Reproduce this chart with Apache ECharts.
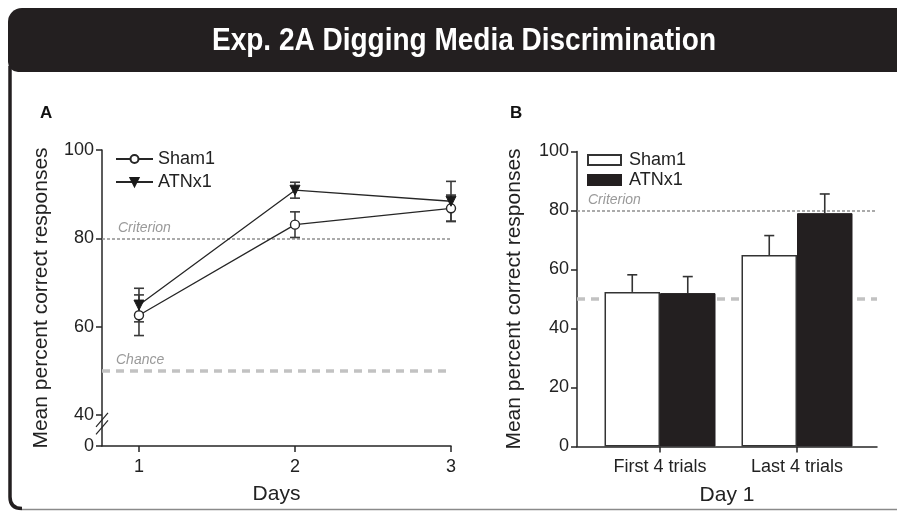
<!DOCTYPE html>
<html><head><meta charset="utf-8">
<script src="https://cdn.jsdelivr.net/npm/echarts@6/dist/echarts.min.js"></script>
<style>html,body{margin:0;padding:0;background:#fff}#c{width:897px;height:512px}</style>
</head><body><div id="c"></div>
<script>
// ---- data ----
const titleText = 'Exp. 2A Digging Media Discrimination';
const days = [1, 2, 3];
const shamMeanA = [62.6, 83.1, 86.8];
const shamSemA  = [4.6, 2.9, 3.0];
const atnMeanA  = [64.9, 90.9, 88.4];
const atnSemA   = [3.8, 1.8, 4.5];
const yTickLabelsA = ['0', '40', '60', '80', '100'];
const yTickValuesA = [33, 40, 60, 80, 100]; // 33 = position of the broken-axis "0"
const trialCats = ['First 4 trials', 'Last 4 trials'];
const shamMeanB = [52.4, 64.9];
const shamSemB  = [5.8, 6.6];
const atnMeanB  = [52.0, 79.1];
const atnSemB   = [5.6, 6.5];
const criterionValue = 80;
const chanceValue = 50;

// ---- style ----
const FONT = '"Liberation Sans", Arial, sans-serif';
const INK = '#262626';
const BAR_W = 55.5;
const CAP = 5;

const chart = echarts.init(document.getElementById('c'), null, {renderer: 'canvas'});

function errRenderA(params, api) {
  const x = api.value(0), lo = api.value(1), hi = api.value(2);
  const a = api.coord([x, hi]), b = api.coord([x, lo]);
  const st = {stroke: '#3a3a3a', lineWidth: 1.6};
  return {type: 'group', children: [
    {type: 'line', shape: {x1: a[0], y1: a[1], x2: b[0], y2: b[1]}, style: st},
    {type: 'line', shape: {x1: a[0] - CAP, y1: a[1], x2: a[0] + CAP, y2: a[1]}, style: st},
    {type: 'line', shape: {x1: b[0] - CAP, y1: b[1], x2: b[0] + CAP, y2: b[1]}, style: st}
  ]};
}
function errRenderB(side) {
  return function (params, api) {
    const x = api.value(0), m = api.value(1), hi = api.value(2);
    const a = api.coord([x, hi]), b = api.coord([x, m]);
    const px = a[0] + side * BAR_W / 2;
    const st = {stroke: '#333', lineWidth: 1.6};
    return {type: 'group', children: [
      {type: 'line', shape: {x1: px, y1: a[1], x2: px, y2: b[1]}, style: st},
      {type: 'line', shape: {x1: px - CAP, y1: a[1], x2: px + CAP, y2: a[1]}, style: st}
    ]};
  };
}

const refLabel = {color: '#9a9a9a', fontStyle: 'italic', fontSize: 14, fontFamily: FONT, position: 'insideStartTop'};
function refLines(withChanceLabel, critDist) {
  return {
    symbol: 'none', silent: true, animation: false,
    data: [
      {yAxis: criterionValue, lineStyle: {type: [3, 2], color: '#8e8e8e', width: 1.6},
       label: Object.assign({}, refLabel, {formatter: 'Criterion', distance: critDist})},
      {yAxis: chanceValue, lineStyle: {type: [8, 6], color: '#c2c2c2', width: 3.5},
       label: Object.assign({}, refLabel, {show: withChanceLabel, formatter: 'Chance', distance: [14, 4]})}
    ]
  };
}

const axisLineStyle = {show: true, onZero: false, lineStyle: {color: INK, width: 1.5}};
const tickStyle = {show: true, length: 6, lineStyle: {color: INK, width: 1.5}};
const labelStyle = {color: '#222', fontSize: 18, fontFamily: FONT};
const nameStyle = {color: '#222', fontSize: 21, fontFamily: FONT};

const option = {
  animation: false,
  backgroundColor: '#fff',
  textStyle: {fontFamily: FONT},
  grid: [
    {left: 102, right: 897 - 451, top: 150, bottom: 512 - 446},
    {left: 577, right: 897 - 877, top: 151.5, bottom: 512 - 446.5}
  ],
  xAxis: [
    {gridIndex: 0, type: 'value', min: 0.763, max: 3, splitLine: {show: false},
     axisLine: axisLineStyle, axisTick: Object.assign({}, tickStyle, {customValues: days}),
     axisLabel: Object.assign({}, labelStyle, {customValues: days, margin: 12, formatter: v => String(v)}),
     name: 'Days', nameLocation: 'middle', nameGap: 38, nameTextStyle: nameStyle},
    {gridIndex: 1, type: 'value', min: -0.606, max: 1.584, splitLine: {show: false},
     axisLine: axisLineStyle, axisTick: Object.assign({}, tickStyle, {customValues: [0, 1]}),
     axisLabel: Object.assign({}, labelStyle, {customValues: [0, 1], margin: 12, formatter: v => trialCats[Math.round(v)]}),
     name: 'Day 1', nameLocation: 'middle', nameGap: 38, nameTextStyle: nameStyle}
  ],
  yAxis: [
    {gridIndex: 0, type: 'value', min: 33, max: 100, splitLine: {show: false},
     axisLine: axisLineStyle, axisTick: Object.assign({}, tickStyle, {customValues: yTickValuesA}),
     axisLabel: Object.assign({}, labelStyle, {customValues: yTickValuesA, margin: 8,
       formatter: v => yTickLabelsA[yTickValuesA.indexOf(v)]}),
     name: 'Mean percent correct responses', nameLocation: 'middle', nameGap: 50, nameTextStyle: nameStyle},
    {gridIndex: 1, type: 'value', min: 0, max: 100, interval: 20, splitLine: {show: false},
     axisLine: axisLineStyle, axisTick: tickStyle,
     axisLabel: Object.assign({}, labelStyle, {margin: 8}),
     name: 'Mean percent correct responses', nameLocation: 'middle', nameGap: 52, nameTextStyle: nameStyle}
  ],
  legend: [
    {data: ['A|Sham1', 'A|ATNx1'], orient: 'vertical', left: 110, top: 145, itemWidth: 37, itemHeight: 10,
     itemGap: 5, selectedMode: false, formatter: n => n.split('|')[1],
     textStyle: {fontSize: 18, lineHeight: 18, color: '#222', fontFamily: FONT}},
    {data: ['B|Sham1', 'B|ATNx1'], orient: 'vertical', left: 582, top: 146, itemWidth: 33, itemHeight: 10,
     itemGap: 2, selectedMode: false, icon: 'rect', formatter: n => n.split('|')[1],
     textStyle: {fontSize: 18, lineHeight: 18, color: '#222', fontFamily: FONT, padding: [0, 0, 0, 3]}}
  ],
  series: [
    {name: 'refA', type: 'line', xAxisIndex: 0, yAxisIndex: 0, data: [], z: 1,
     markLine: refLines(true, [16, 3])},
    {name: 'refB', type: 'line', xAxisIndex: 1, yAxisIndex: 1, data: [], z: 1,
     markLine: refLines(false, [11, 3])},
    {name: 'errA1', type: 'custom', xAxisIndex: 0, yAxisIndex: 0, z: 6, renderItem: errRenderA,
     data: days.map((d, i) => [d, shamMeanA[i] - shamSemA[i], shamMeanA[i] + shamSemA[i]])},
    {name: 'errA2', type: 'custom', xAxisIndex: 0, yAxisIndex: 0, z: 6, renderItem: errRenderA,
     data: days.map((d, i) => [d, atnMeanA[i] - atnSemA[i], atnMeanA[i] + atnSemA[i]])},
    {name: 'A|Sham1', type: 'line', xAxisIndex: 0, yAxisIndex: 0, z: 8,
     data: days.map((d, i) => [d, shamMeanA[i]]),
     symbol: 'circle', symbolSize: 9, showAllSymbol: true,
     lineStyle: {color: INK, width: 1.3},
     itemStyle: {color: '#fff', borderColor: INK, borderWidth: 1.4}},
    {name: 'A|ATNx1', type: 'line', xAxisIndex: 0, yAxisIndex: 0, z: 8,
     data: days.map((d, i) => [d, atnMeanA[i]]),
     symbol: 'triangle', symbolRotate: 180, symbolSize: 10,
     lineStyle: {color: INK, width: 1.3},
     itemStyle: {color: '#1a1a1a', borderColor: '#1a1a1a', borderWidth: 1}},
    {name: 'B|Sham1', type: 'bar', xAxisIndex: 1, yAxisIndex: 1, z: 10, barWidth: BAR_W, barGap: '0%',
     data: trialCats.map((c, i) => [i, shamMeanB[i]]),
     itemStyle: {color: '#fff', borderColor: '#333', borderWidth: 1.5}},
    {name: 'B|ATNx1', type: 'bar', xAxisIndex: 1, yAxisIndex: 1, z: 10, barWidth: BAR_W, barGap: '0%',
     data: trialCats.map((c, i) => [i, atnMeanB[i]]),
     itemStyle: {color: '#231f20', borderColor: '#231f20', borderWidth: 1}},
    {name: 'errB1', type: 'custom', xAxisIndex: 1, yAxisIndex: 1, z: 11, renderItem: errRenderB(-1),
     data: trialCats.map((c, i) => [i, shamMeanB[i], shamMeanB[i] + shamSemB[i]])},
    {name: 'errB2', type: 'custom', xAxisIndex: 1, yAxisIndex: 1, z: 9, renderItem: errRenderB(1),
     data: trialCats.map((c, i) => [i, atnMeanB[i], atnMeanB[i] + atnSemB[i]])}
  ],
  graphic: [
    {id: 'hdr', type: 'rect', shape: {x: 8, y: 8, width: 905, height: 64, r: [14, 0, 0, 10]},
     style: {fill: '#231f20'}, z: 0},
    {id: 'ttl', type: 'text', x: 464, y: 41, scaleX: 0.875, z: 1,
     style: {text: titleText, fill: '#fff', font: 'bold 32px ' + FONT, textAlign: 'center', textVerticalAlign: 'middle'}},
    {id: 'frameL', type: 'line', z: 0, shape: {x1: 10, y1: 66, x2: 10, y2: 497},
     style: {stroke: '#231f20', lineWidth: 3.5}},
    {id: 'frameC', type: 'bezierCurve', z: 0,
     shape: {x1: 10, y1: 497, cpx1: 10, cpy1: 508.5, x2: 22, y2: 508.5},
     style: {stroke: '#231f20', lineWidth: 3.5, fill: null}},
    {id: 'frameB', type: 'line', z: 0, shape: {x1: 22, y1: 509.5, x2: 897, y2: 509.5},
     style: {stroke: '#8a8a8a', lineWidth: 1.5}},
    {id: 'pA', type: 'text', x: 40, y: 113, style: {text: 'A', font: 'bold 17px ' + FONT, fill: '#111', textVerticalAlign: 'middle'}},
    {id: 'pB', type: 'text', x: 510, y: 113, style: {text: 'B', font: 'bold 17px ' + FONT, fill: '#111', textVerticalAlign: 'middle'}}
  ]
};
chart.setOption(option);

// axis-break marks on panel A's y axis, positioned through the axis scales
const bx = chart.convertToPixel({xAxisIndex: 0}, 0.763);
const by1 = chart.convertToPixel({yAxisIndex: 0}, 38.9);
const by2 = chart.convertToPixel({yAxisIndex: 0}, 37.2);
const slash = (id, y) => ({id: id, type: 'line', z: 20,
  shape: {x1: bx - 6, y1: y + 7, x2: bx + 6, y2: y - 7}, style: {stroke: INK, lineWidth: 1.2}});
chart.setOption({graphic: [slash('brk1', by1), slash('brk2', by2)]});
</script></body></html>
